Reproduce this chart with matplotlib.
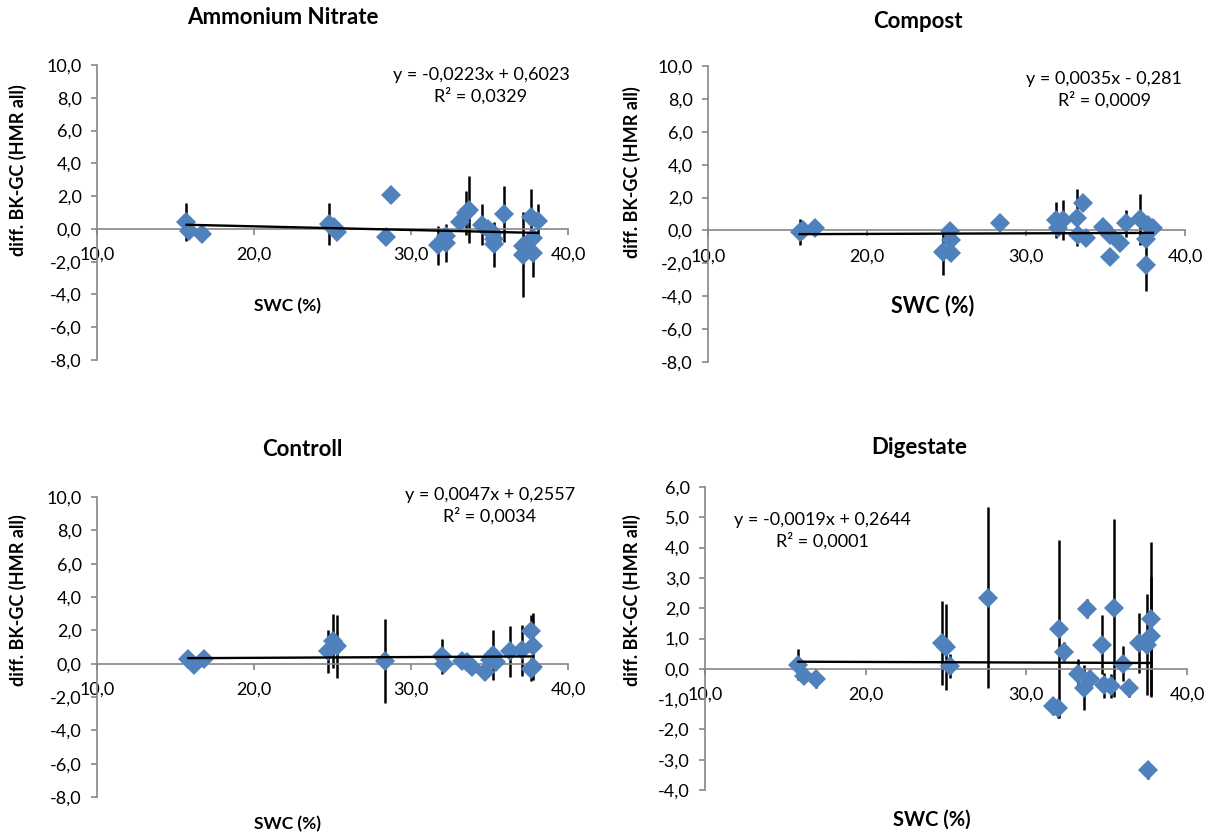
import numpy as np
import matplotlib
matplotlib.use("Agg")
import matplotlib.pyplot as plt

plt.rcParams['font.family'] = ['Lato', 'DejaVu Sans']

# ---- data ----
titles = ["Ammonium Nitrate", "Compost", "Controll", "Digestate"]

an_x = [15.7, 15.85, 16.7, 24.75, 25.1, 25.3, 28.75, 28.4, 31.7, 32.2, 32.2, 33.1, 33.5,
        33.7, 34.5, 34.9, 35.2, 35.3, 35.3, 35.95, 37.15, 37.15, 37.65, 37.75, 37.75, 38.1]
an_y = [0.41, -0.14, -0.3, 0.3, 0.1, -0.18, 2.09, -0.5, -1.0, -0.45, -0.85, 0.4, 0.98,
        1.18, 0.26, 0.02, -0.24, -0.6, -0.95, 0.91, -1.06, -1.57, 0.71, -0.55, -1.46, 0.5]
an_err = [1.15, 0.3, 0.3, 1.3, 0.4, 0.4, 0.3, 0.4, 1.2, 0.5, 1.15, 0.4, 1.35,
          2.05, 1.25, 0.4, 0.5, 0.5, 1.35, 1.7, 0.5, 2.6, 1.75, 0.5, 1.45, 1.0]

co_x = [15.77, 15.97, 16.7, 24.78, 25.24, 25.3, 25.3, 28.34, 31.9, 32.0, 32.3, 33.2, 33.6,
        33.27, 33.8, 34.84, 35.26, 35.26, 35.9, 36.3, 37.15, 37.57, 37.57, 37.67, 37.98]
co_y = [-0.08, 0.02, 0.12, -1.3, -0.02, -0.59, -1.36, 0.43, 0.63, 0.12, 0.63, 0.77, 1.64,
        -0.28, -0.45, 0.18, -0.28, -1.64, -0.75, 0.43, 0.67, -0.53, -2.1, 0.32, 0.12]
co_err = [0.8, 0.3, 0.3, 1.4, 0.3, 0.3, 0.3, 0.3, 1.07, 0.3, 1.2, 1.72, 0.3,
          0.3, 0.3, 0.3, 0.3, 0.3, 0.3, 0.8, 1.55, 0.3, 1.6, 0.3, 0.3]

ct_x = [15.82, 16.15, 16.82, 24.73, 25.04, 25.3, 28.33, 31.99, 32.1, 33.24, 33.56,
        33.87, 34.7, 35.02, 35.23, 35.44, 36.32, 37.1, 37.64, 37.74, 37.74, 37.64]
ct_y = [0.3, -0.1, 0.26, 0.74, 1.36, 1.04, 0.16, 0.44, 0.0, 0.16, 0.1,
        -0.2, -0.5, 0.24, 0.5, 0.1, 0.74, 0.8, 1.94, 1.04, -0.2, -0.34]
ct_err = [0.2, 0.2, 0.2, 1.27, 1.6, 1.9, 2.5, 1.06, 0.3, 0.3, 0.3,
          0.3, 0.3, 0.3, 1.5, 0.3, 1.55, 1.55, 1.0, 2.0, 0.3, 0.7]

di_x = [15.81, 16.16, 16.9, 24.73, 24.98, 25.25, 27.63, 31.64, 31.95, 32.05, 32.34, 33.24, 33.59,
        33.76, 33.96, 34.69, 34.83, 35.3, 35.46, 36.0, 36.4, 37.03, 37.5, 37.76, 37.76, 37.6]
di_y = [0.14, -0.25, -0.34, 0.85, 0.72, 0.08, 2.35, -1.22, -1.31, 1.31, 0.57, -0.17, -0.63,
        1.99, -0.34, 0.8, -0.55, -0.57, 2.02, 0.17, -0.63, 0.85, 0.8, 1.08, 1.63, -3.35]
di_err = [0.5, 0.2, 0.3, 1.39, 1.42, 0.4, 2.98, 0.3, 0.3, 2.94, 0.3, 0.5, 0.74,
          0.3, 0.3, 0.97, 0.4, 0.4, 2.94, 0.57, 0.3, 1.0, 1.66, 1.95, 2.57, 0.3]

slopes = [-0.0223, 0.0035, 0.0047, -0.0019]
intercepts = [0.6023, -0.281, 0.2557, 0.2644]
equations = ["y = -0,0223x + 0,6023\nR² = 0,0329",
             "y = 0,0035x - 0,281\nR² = 0,0009",
             "y = 0,0047x + 0,2557\nR² = 0,0034",
             "y = -0,0019x + 0,2644\nR² = 0,0001"]
xticks = [10, 20, 30, 40]
yticks_list = [np.arange(-8, 11, 2), np.arange(-8, 11, 2), np.arange(-8, 11, 2), np.arange(-4, 7, 1)]

xs = [an_x, co_x, ct_x, di_x]
ys = [an_y, co_y, ct_y, di_y]
errs = [an_err, co_err, ct_err, di_err]

W, H = 1210, 836
fig = plt.figure(figsize=(W / 100, H / 100), dpi=100)

def fx(px):
    return px / W

def fy(py):
    return 1 - py / H

# axes boxes in pixels: left, right, top, bottom
boxes = [(97, 568, 65, 360), (708, 1185, 66, 362), (97, 568, 497, 797), (705, 1187, 487, 790)]
title_pos = [(283, 18), (918, 21), (302, 450), (919, 448)]
ylab_pos = [(18, 170), (632, 172), (18, 600), (632, 600)]
xlab_pos = [(287, 306), (933, 306), (287, 824), (932, 820)]
xlab_size = [12.5, 15.5, 12.5, 14.5]
eq_pos = [(481, 86), (1104, 90), (490, 506), (822, 531)]

gray = '#868686'
blue = '#4F81BD'

for i in range(4):
    l, r, t, b = boxes[i]
    ax = fig.add_axes([fx(l), fy(b), fx(r - l), (b - t) / H])
    x = np.array(xs[i])
    y = np.array(ys[i])
    ax.errorbar(x, y, yerr=errs[i], fmt='none', ecolor='black', elinewidth=1.8, capsize=0, zorder=2)
    ax.plot(x, y, 'D', color=blue, markersize=10.3, markeredgewidth=0, zorder=3)
    xx = np.array([x.min(), x.max()])
    ax.plot(xx, slopes[i] * xx + intercepts[i], color='black', lw=1.7, zorder=4)

    yt = yticks_list[i]
    ax.set_xlim(10, 40)
    ax.set_ylim(yt[0], yt[-1])
    ax.set_xticks(xticks)
    ax.set_xticklabels([f"{v:.1f}".replace('.', ',') for v in xticks])
    ax.set_yticks(yt)
    ax.set_yticklabels([f"{v:.1f}".replace('.', ',') for v in yt])
    for s in ['top', 'right']:
        ax.spines[s].set_visible(False)
    ax.spines['bottom'].set_position(('data', 0))
    for s in ['bottom', 'left']:
        ax.spines[s].set_color(gray)
        ax.spines[s].set_linewidth(1.2)
    ax.tick_params(axis='both', colors=gray, labelcolor='black', labelsize=13, length=4, width=1.2,
                   direction='out')
    ax.tick_params(axis='x', pad=9)
    ax.tick_params(axis='y', pad=7)
    ax.patch.set_alpha(0)

    fig.text(fx(title_pos[i][0]), fy(title_pos[i][1]), titles[i], ha='center', va='center',
             fontsize=16, fontweight='bold')
    fig.text(fx(ylab_pos[i][0]), fy(ylab_pos[i][1]), "diff. BK-GC (HMR all)", ha='center', va='center',
             rotation=90, fontsize=13, fontweight='bold')
    fig.text(fx(xlab_pos[i][0]), fy(xlab_pos[i][1]), "SWC (%)", ha='center', va='center',
             fontsize=xlab_size[i], fontweight='bold')
    fig.text(fx(eq_pos[i][0]), fy(eq_pos[i][1]), equations[i], ha='center', va='center',
             multialignment='center', fontsize=13, linespacing=1.3)

fig.savefig("out.png", dpi=100)
